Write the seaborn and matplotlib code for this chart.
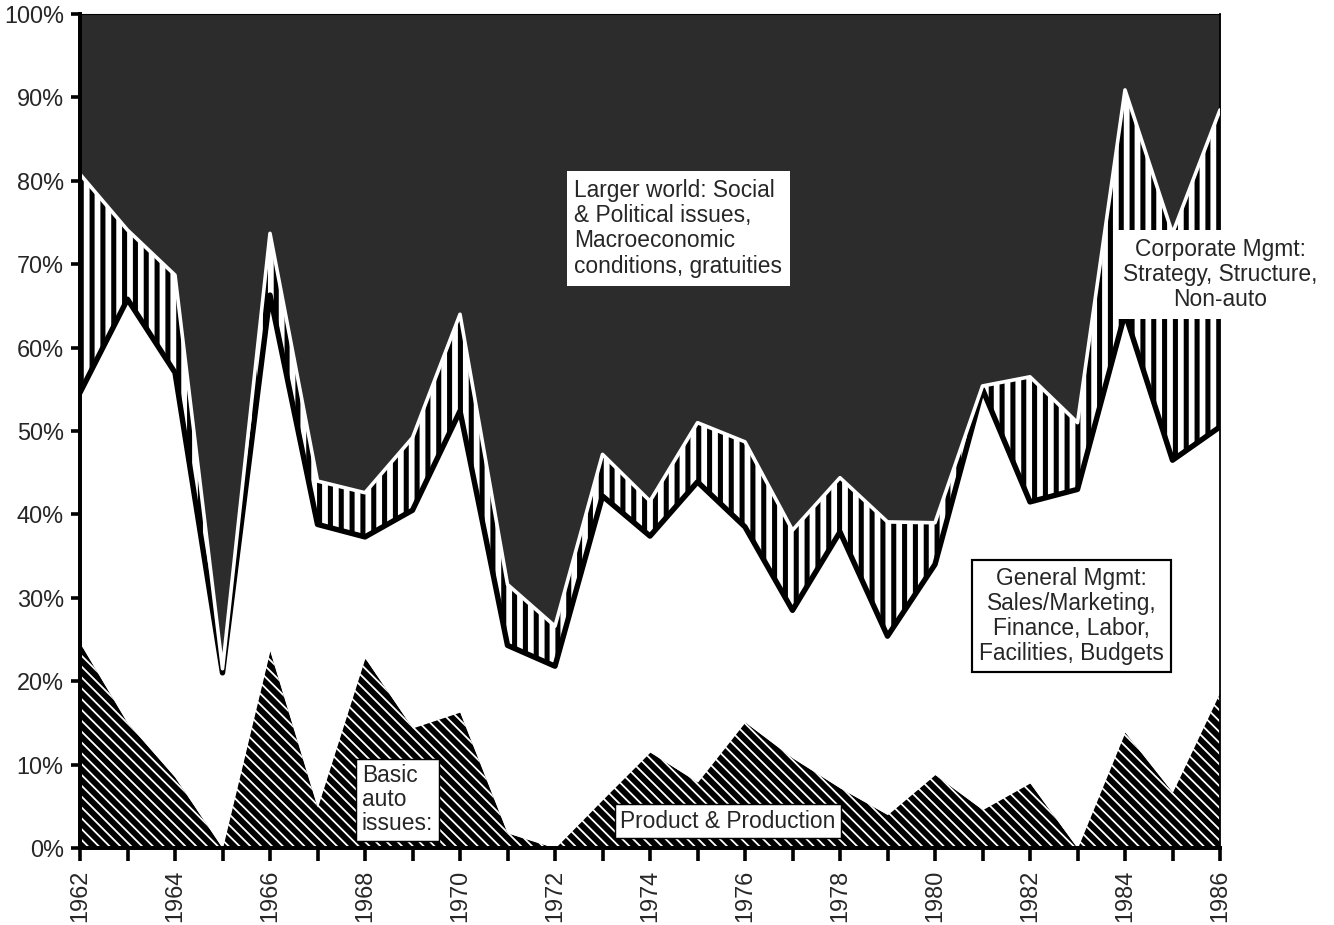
import numpy as np
import matplotlib
matplotlib.use("Agg")
import matplotlib.pyplot as plt
import seaborn as sns

years = list(range(1962, 1987))

# share of agenda items per year, percent (bottom to top)
basic_auto = [24.6, 15.0, 8.5, 0.0, 23.7, 4.9, 22.8, 14.4, 16.3, 1.8, 0.0, 5.8, 11.5,
              7.9, 15.1, 10.8, 7.2, 4.0, 8.8, 4.6, 7.8, 0.0, 13.9, 6.7, 18.7]
general_mgmt = [30.0, 50.8, 48.5, 21.0, 42.6, 33.9, 14.5, 26.1, 36.1, 22.5, 21.8, 36.4, 25.9,
                36.0, 23.4, 17.7, 30.7, 21.4, 25.2, 50.4, 33.7, 43.0, 50.2, 39.8, 31.8]
corporate_mgmt = [26.2, 8.3, 11.7, 0.5, 7.4, 5.2, 5.3, 8.7, 11.6, 7.3, 4.8, 5.0, 4.2,
                  7.1, 10.2, 9.6, 6.5, 13.7, 5.0, 0.4, 15.0, 8.0, 26.8, 27.2, 38.0]
larger_world = [19.2, 25.9, 31.3, 78.5, 26.3, 56.0, 57.4, 50.8, 36.0, 68.4, 73.4, 52.8, 58.4,
                49.0, 51.3, 61.9, 55.6, 60.9, 61.0, 44.6, 43.5, 49.0, 9.1, 26.3, 11.5]

year_ticks = list(range(1962, 1987, 2))
pct_ticks = list(range(0, 101, 10))

sns.set_style("ticks")
plt.rcParams["font.family"] = ["Liberation Sans", "DejaVu Sans"]

DPI = 130
fig = plt.figure(figsize=(1334 / DPI, 925 / DPI), dpi=DPI)
ax = fig.add_axes([80 / 1334, 1 - 848 / 925, 1140 / 1334, 834 / 925])

layers = np.vstack([basic_auto, general_mgmt, corporate_mgmt, larger_world])
tops = np.cumsum(layers, axis=0)
bottoms = np.vstack([np.zeros(len(years)), tops[:-1]])

# basic auto issues: black with thin white diagonals
with plt.rc_context({"hatch.linewidth": 1.0}):
    ax.fill_between(years, bottoms[0], tops[0], facecolor="black", edgecolor="white",
                    hatch="\\\\\\\\", linewidth=0, zorder=1)
# general mgmt: plain white
ax.fill_between(years, bottoms[1], tops[1], facecolor="white", linewidth=0, zorder=1)
# corporate mgmt: vertical stripes
with plt.rc_context({"hatch.linewidth": 2.8}):
    ax.fill_between(years, bottoms[2], tops[2], facecolor="white", edgecolor="black",
                    hatch="||", linewidth=0, zorder=1)
# larger world: dark grey
ax.fill_between(years, bottoms[3], tops[3], facecolor="#2c2c2c", linewidth=0, zorder=1)

sns.lineplot(x=years, y=tops[1], color="black", lw=3.0, ax=ax, zorder=3)
sns.lineplot(x=years, y=tops[2], color="white", lw=2.0, ax=ax, zorder=4)

ax.set_xlim(1962, 1986)
ax.set_ylim(0, 100)
ax.set_xticks(year_ticks)
ax.set_xticks(years, minor=True)
ax.set_xticklabels([str(y) for y in year_ticks], rotation=90, fontsize=13)
ax.set_yticks(pct_ticks)
ax.set_yticklabels([f"{p}%" for p in pct_ticks], fontsize=13)
ax.tick_params(axis="x", which="both", length=7, width=2, direction="out", pad=5, color="black")
ax.tick_params(axis="y", length=5, width=2, direction="out", pad=4, color="black")
ax.set_xlabel("")
ax.set_ylabel("")

for side in ["left", "bottom"]:
    ax.spines[side].set_linewidth(2.2)
    ax.spines[side].set_zorder(5)
ax.spines["right"].set_linewidth(1.0)
ax.spines["top"].set_linewidth(0.6)
for s in ax.spines.values():
    s.set_color("black")

box = dict(boxstyle="square,pad=0.35", fc="white", ec="none")
ax.text(1974.6, 74.3, "Larger world: Social\n& Political issues,\nMacroeconomic\nconditions, gratuities",
        ha="center", va="center", multialignment="left", fontsize=12.6, linespacing=1.12,
        bbox=box, zorder=6)
ax.text(1986.0, 68.8, "Corporate Mgmt:\nStrategy, Structure,\nNon-auto",
        ha="center", va="center", multialignment="center", fontsize=12.6, linespacing=1.12,
        bbox=box, zorder=6, clip_on=False)
ax.text(1982.87, 27.8, "General Mgmt:\nSales/Marketing,\nFinance, Labor,\nFacilities, Budgets",
        ha="center", va="center", multialignment="center", fontsize=12.6, linespacing=1.12,
        bbox=dict(boxstyle="square,pad=0.3", fc="white", ec="black", lw=1.2), zorder=6)
ax.text(1968.68, 5.8, "Basic\nauto\nissues:",
        ha="center", va="center", multialignment="left", fontsize=12.6, linespacing=1.05,
        bbox=dict(boxstyle="square,pad=0.25", fc="white", ec="black", lw=0.8), zorder=6)
ax.text(1975.64, 3.2, "Product & Production",
        ha="center", va="center", fontsize=12.6,
        bbox=dict(boxstyle="square,pad=0.25", fc="white", ec="black", lw=0.8), zorder=6)

fig.savefig("out.png", dpi=DPI)
